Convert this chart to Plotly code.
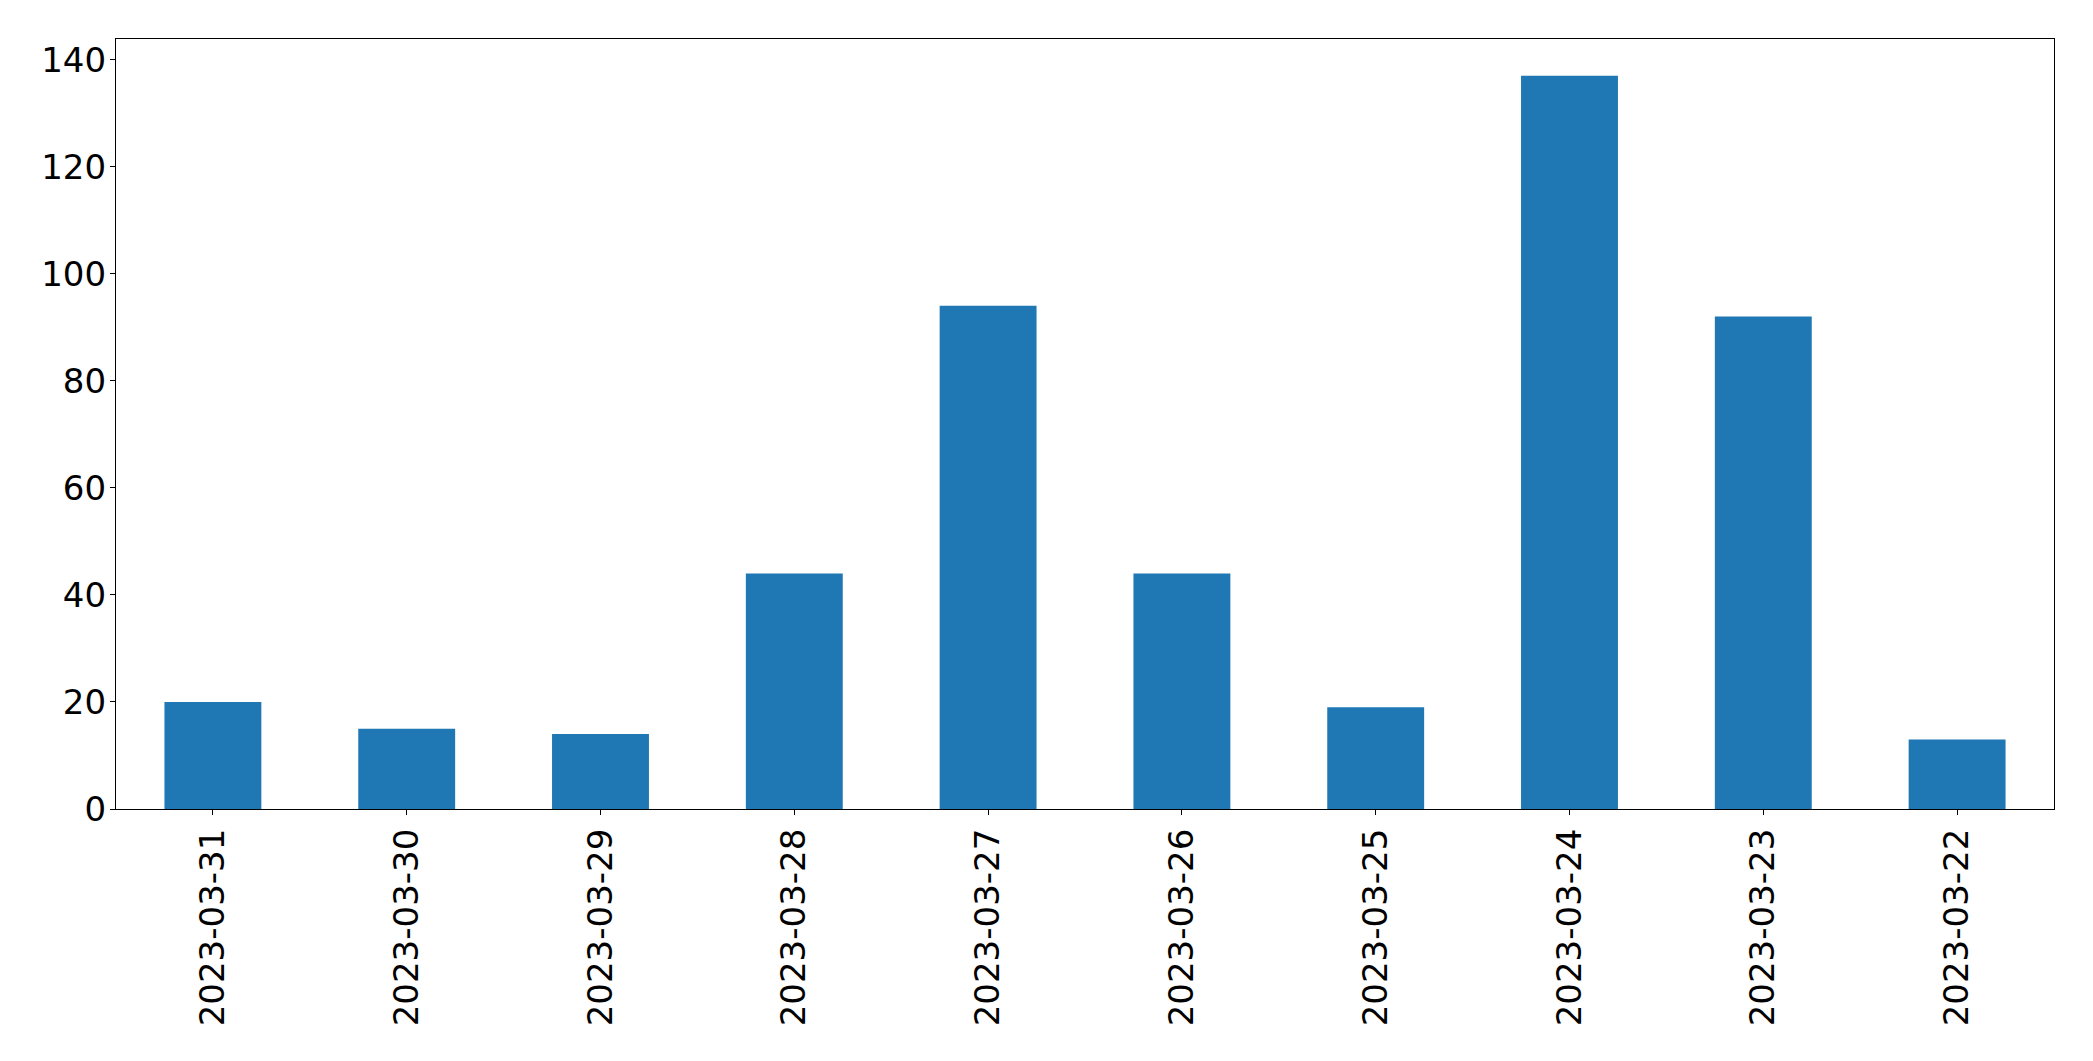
import plotly.graph_objects as go

dates = ["2023-03-31", "2023-03-30", "2023-03-29", "2023-03-28", "2023-03-27",
         "2023-03-26", "2023-03-25", "2023-03-24", "2023-03-23", "2023-03-22"]
counts = [20, 15, 14, 44, 94, 44, 19, 137, 92, 13]
y_ticks = [0, 20, 40, 60, 80, 100, 120, 140]

fig = go.Figure(go.Bar(x=dates, y=counts, marker_color="#1f77b4", width=0.5,
                       marker_line_width=0))

font = dict(family="DejaVu Sans", size=34, color="black")
# page body has an 8px default margin, compensate
fig.update_layout(
    width=2085, height=1053, autosize=False,
    margin=dict(l=108, r=39, t=31, b=252, pad=0),
    plot_bgcolor="white", paper_bgcolor="white",
    font=font, showlegend=False, bargap=0.5,
)
fig.update_xaxes(type="category", range=[-0.5, 9.5], tickangle=-90,
                 showline=True, linecolor="black", linewidth=1.2, mirror=True,
                 ticks="outside", ticklen=5, tickwidth=1.2, tickcolor="black",
                 showgrid=False, zeroline=False, tickfont=font)
fig.update_yaxes(range=[0, 143.85], tickvals=y_ticks,
                 showline=True, linecolor="black", linewidth=1.2, mirror=True,
                 ticks="outside", ticklen=5, tickwidth=1.2, tickcolor="black",
                 showgrid=False, zeroline=False, tickfont=font,
                 ticklabelstandoff=-3)

fig.write_html("out.html")
